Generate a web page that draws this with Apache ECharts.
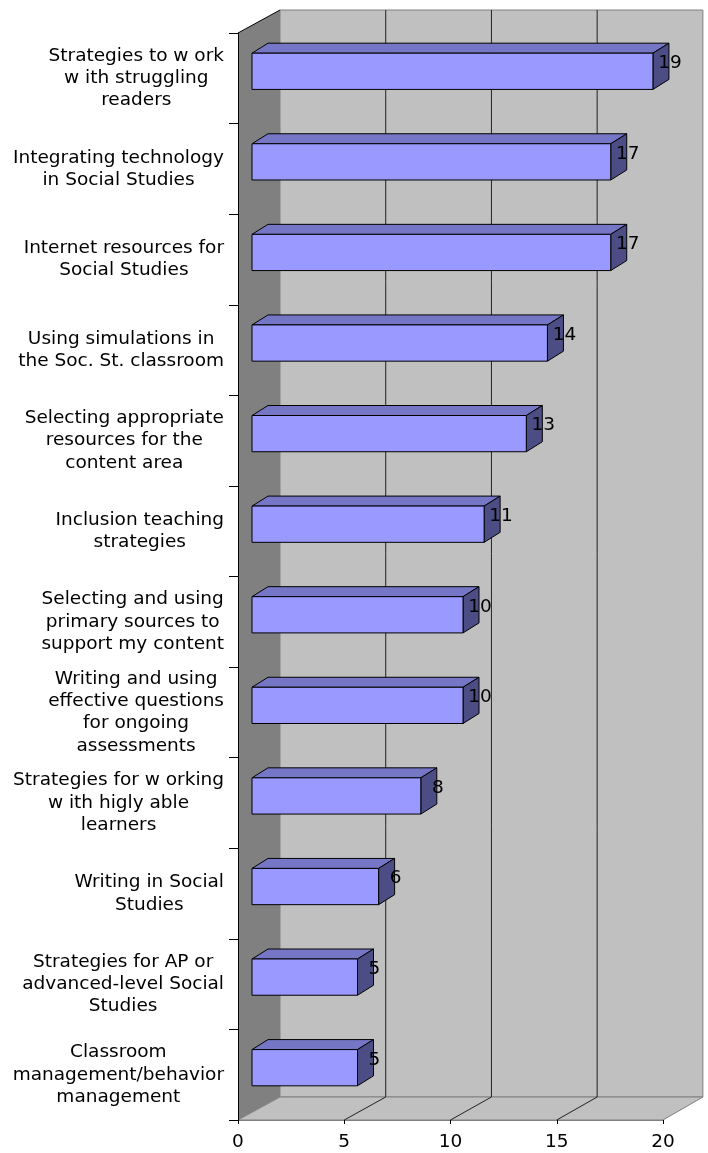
<!DOCTYPE html>
<html>
<head>
<meta charset="utf-8">
<script src="https://cdn.jsdelivr.net/npm/echarts@6/dist/echarts.min.js"></script>
<style>
html,body{margin:0;padding:0;background:#fff;}
#chart{width:708px;height:1153px;}
</style>
</head>
<body>
<div id="chart"></div>
<script>
const categories = [
  "Strategies to w ork\nw ith struggling\nreaders",
  "Integrating technology\nin Social Studies",
  "Internet resources for\nSocial Studies",
  "Using simulations in\nthe Soc. St. classroom",
  "Selecting appropriate\nresources for the\ncontent area",
  "Inclusion teaching\nstrategies",
  "Selecting and using\nprimary sources to\nsupport my content",
  "Writing and using\neffective questions\nfor ongoing\nassessments",
  "Strategies for w orking\nw ith higly able\nlearners",
  "Writing in Social\nStudies",
  "Strategies for AP or\nadvanced-level Social\nStudies",
  "Classroom\nmanagement/behavior\nmanagement"
];
const values = [19, 17, 17, 14, 13, 11, 10, 10, 8, 6, 5, 5];
const xTicks = [0, 5, 10, 15, 20];

const FONT = 'DejaVu Sans';
// 3D geometry (pixels)
const BOX_DX = 42, BOX_DY = -23, BACK_K = 0.995;
const BAR_BX = 14, BAR_BY = -7, BAR_K = 0.993;
const BAR_DX = 16, BAR_DY = -10;

const chart = echarts.init(document.getElementById('chart'), null, {renderer: 'canvas'});

function wallsRender(params, api) {
  const cs = params.coordSys;
  const x0 = cs.x, y0 = cs.y, x1 = cs.x + cs.width, y1 = cs.y + cs.height;
  const backX = v => x0 + BOX_DX + (api.coord([v, 0])[0] - x0) * BACK_K;
  const bL = backX(xTicks[0]), bR = backX(xTicks[xTicks.length - 1]);
  const bT = y0 + BOX_DY, bB = y1 + BOX_DY;
  const children = [];
  children.push({type: 'rect', shape: {x: bL, y: bT, width: bR - bL, height: bB - bT},
    style: {fill: '#c0c0c0', stroke: '#808080', lineWidth: 1}});
  children.push({type: 'polygon', shape: {points: [[x0, y0], [bL, bT], [bL, bB], [x0, y1]]},
    style: {fill: '#808080'}});
  children.push({type: 'line', shape: {x1: x0, y1: y0, x2: bL, y2: bT},
    style: {stroke: '#000', lineWidth: 1}});
  children.push({type: 'polygon', shape: {points: [[x0, y1], [bL, bB], [bR, bB], [x1, y1]]},
    style: {fill: '#c0c0c0', stroke: '#808080', lineWidth: 1}});
  xTicks.forEach((t, k) => {
    if (k === 0 || k === xTicks.length - 1) return;
    const fx = api.coord([t, 0])[0], bx = backX(t);
    children.push({type: 'line', shape: {x1: bx, y1: bT, x2: bx, y2: bB},
      style: {stroke: '#222', lineWidth: 1}});
    children.push({type: 'line', shape: {x1: fx, y1: y1, x2: bx, y2: bB},
      style: {stroke: '#222', lineWidth: 1}});
  });
  return {type: 'group', children};
}

function barRender(params, api) {
  const v = api.value(0), i = api.value(1);
  const c0 = api.coord([0, i]), c1 = api.coord([v, i]);
  const band = api.size([0, 1])[1];
  const h = band * 0.4;
  const L = c0[0] + BAR_BX;
  const R = L + (c1[0] - c0[0]) * BAR_K;
  const yc = c0[1] + BAR_BY;
  const T = yc - h / 2, B = yc + h / 2;
  const st = {stroke: '#000', lineWidth: 1};
  return {type: 'group', children: [
    {type: 'polygon', shape: {points: [[L, T], [L + BAR_DX, T + BAR_DY], [R + BAR_DX, T + BAR_DY], [R, T]]},
      style: Object.assign({fill: '#7676c6'}, st)},
    {type: 'polygon', shape: {points: [[R, T], [R + BAR_DX, T + BAR_DY], [R + BAR_DX, B + BAR_DY], [R, B]]},
      style: Object.assign({fill: '#4d4d85'}, st)},
    {type: 'rect', shape: {x: L, y: T, width: R - L, height: h},
      style: Object.assign({fill: '#9999ff'}, st)},
    {type: 'text', style: {text: String(v), x: R + 17, y: yc - 8, align: 'center', verticalAlign: 'middle',
      fontSize: 18.5, fontFamily: FONT, fill: '#000'}}
  ]};
}

chart.setOption({
  backgroundColor: '#fff',
  animation: false,
  grid: {left: 238, right: 45, top: 33, bottom: 33, containLabel: false},
  xAxis: {
    type: 'value', min: 0, max: 20, interval: 5, z: 5,
    axisLine: {show: true, lineStyle: {color: '#808080', width: 1}},
    axisTick: {show: true, length: 4, lineStyle: {color: '#000'}},
    axisLabel: {fontSize: 18.5, fontFamily: FONT, color: '#000', margin: 13},
    splitLine: {show: false}
  },
  yAxis: {
    type: 'category', data: categories, inverse: true, z: 5,
    axisLine: {show: true, lineStyle: {color: '#000', width: 1}},
    axisTick: {show: true, length: 9, lineStyle: {color: '#000'}},
    axisLabel: {
      margin: 14, align: 'right', interval: 0,
      formatter: val => val.split('\n').map(s => '{c|' + s + '}').join('\n'),
      rich: {c: {align: 'center', fontSize: 18.5, lineHeight: 22.3, fontFamily: FONT, color: '#000'}}
    },
    splitLine: {show: false}
  },
  series: [
    {type: 'custom', renderItem: wallsRender, data: [[0, 0]], encode: {x: 0, y: 1}, silent: true, z: 1},
    {type: 'custom', renderItem: barRender, data: values.map((v, i) => [v, i]), encode: {x: 0, y: 1}, z: 2}
  ]
});
</script>
</body>
</html>
